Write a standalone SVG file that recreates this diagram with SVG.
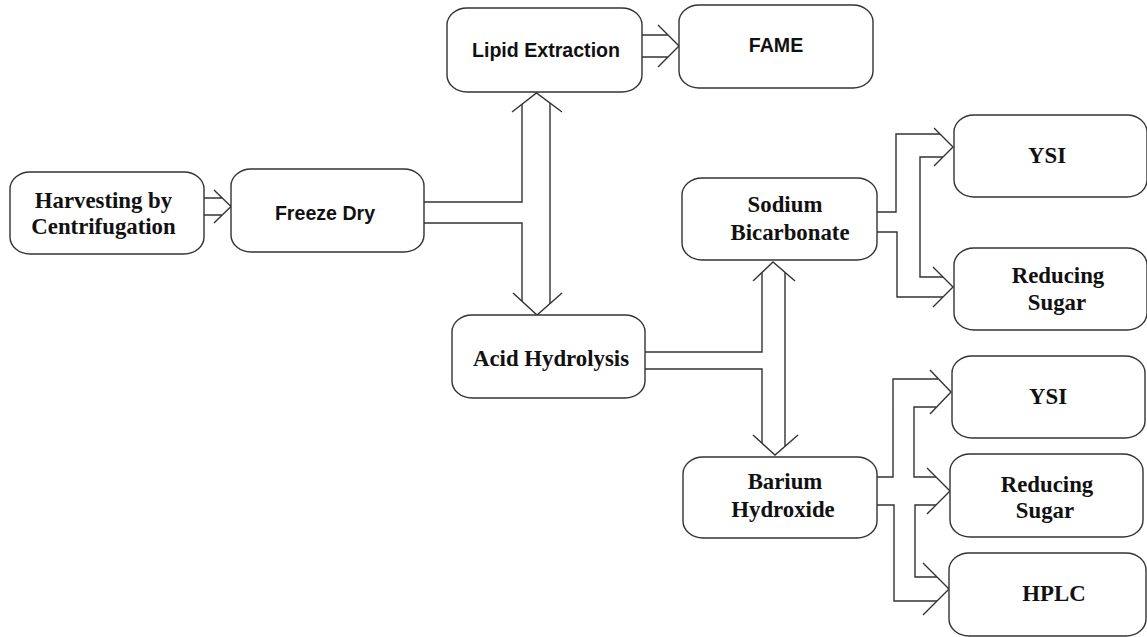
<svg xmlns="http://www.w3.org/2000/svg" width="1147" height="637" viewBox="0 0 1147 637">
<style>
.box{fill:#fff;stroke:#333;stroke-width:1.4}
.ln{fill:none;stroke:#333;stroke-width:1.4}
.serif{font-family:"Liberation Serif","Times New Roman",serif;font-weight:bold;font-size:22.8px;fill:#111;text-anchor:middle}
.sans{font-family:"Liberation Sans",Arial,sans-serif;font-weight:bold;font-size:19.6px;fill:#111;text-anchor:middle}
</style>
<rect width="1147" height="637" fill="#fff"/>
<g id="connectors">
  <!-- Harvesting -> Freeze Dry -->
  <path class="ln" d="M204,198 H222.5 M204,215 H222.5 M214,190 L231,206.5 L214,223"/>
  <!-- Lipid -> FAME -->
  <path class="ln" d="M642,35 H668 M642,57 H668 M658,25 L679,46 L658,67"/>
  <!-- Freeze Dry -> Lipid / Acid -->
  <path class="ln" d="M424,202 H522 V104 M424,223 H522 V301 M550,103 V304"/>
  <path class="ln" d="M512,112 L536.5,93 L562,112 M513,293 L537,315 L562,293"/>
  <!-- Acid -> Sodium / Barium -->
  <path class="ln" d="M645,352 H762 V272.5 M645,369 H762 V443 M785,272.5 V446"/>
  <path class="ln" d="M753,281 L773,262 L795,281 M753,435 L775,455 L798,435"/>
  <!-- Sodium -> YSI / Reducing -->
  <path class="ln" d="M877,212 H896 V134 H940 M943,157 H920 V277 H943 M877,232 H897 V297 H943"/>
  <path class="ln" d="M934,128 L953,147 L934,166 M933,267 L953,287 L933,307"/>
  <!-- Barium -> YSI / Reducing / HPLC -->
  <path class="ln" d="M877,477 H893 V379 H938 M936,407 H914 V477 H936 M936,505 H915 V577 H937 M877,505 H894 V601 H937"/>
  <path class="ln" d="M930,370 L951,392 L930,414 M927,468 L950,491 L927,514 M923,563 L949,589 L923,615"/>
</g>
<g id="harvesting">
  <rect class="box" x="10" y="172" width="194" height="82" rx="20" ry="17"/>
  <text class="serif" x="103.5" y="208">Harvesting by</text>
  <text class="serif" x="103.5" y="234">Centrifugation</text>
</g>
<g id="freeze-dry">
  <rect class="box" x="231" y="169" width="193" height="83" rx="20" ry="17"/>
  <text class="sans" x="325" y="220">Freeze Dry</text>
</g>
<g id="lipid-extraction">
  <rect class="box" x="447" y="8" width="195" height="84" rx="20" ry="17"/>
  <text class="sans" x="546" y="57">Lipid Extraction</text>
</g>
<g id="fame">
  <rect class="box" x="679" y="5" width="194" height="83" rx="20" ry="17"/>
  <text class="sans" x="776" y="52">FAME</text>
</g>
<g id="acid-hydrolysis">
  <rect class="box" x="452" y="315" width="193" height="83" rx="20" ry="17"/>
  <text class="serif" x="551" y="366">Acid Hydrolysis</text>
</g>
<g id="sodium-bicarbonate">
  <rect class="box" x="682" y="178" width="195" height="82" rx="20" ry="17"/>
  <text class="serif" x="785" y="212">Sodium</text>
  <text class="serif" x="790" y="240">Bicarbonate</text>
</g>
<g id="barium-hydroxide">
  <rect class="box" x="683" y="457" width="194" height="81" rx="20" ry="17"/>
  <text class="serif" x="785" y="489">Barium</text>
  <text class="serif" x="783" y="517">Hydroxide</text>
</g>
<g id="ysi-1">
  <rect class="box" x="954" y="115" width="193" height="82" rx="20" ry="17"/>
  <text class="serif" x="1047" y="163">YSI</text>
</g>
<g id="reducing-sugar-1">
  <rect class="box" x="954" y="248" width="193" height="82" rx="20" ry="17"/>
  <text class="serif" x="1058" y="283">Reducing</text>
  <text class="serif" x="1057" y="310">Sugar</text>
</g>
<g id="ysi-2">
  <rect class="box" x="952" y="356" width="193" height="82" rx="20" ry="17"/>
  <text class="serif" x="1048" y="404">YSI</text>
</g>
<g id="reducing-sugar-2">
  <rect class="box" x="950" y="454" width="193" height="83" rx="20" ry="17"/>
  <text class="serif" x="1047" y="492">Reducing</text>
  <text class="serif" x="1045" y="518">Sugar</text>
</g>
<g id="hplc">
  <rect class="box" x="949" y="553" width="197" height="83" rx="20" ry="17"/>
  <text class="serif" x="1054" y="601">HPLC</text>
</g>
</svg>
